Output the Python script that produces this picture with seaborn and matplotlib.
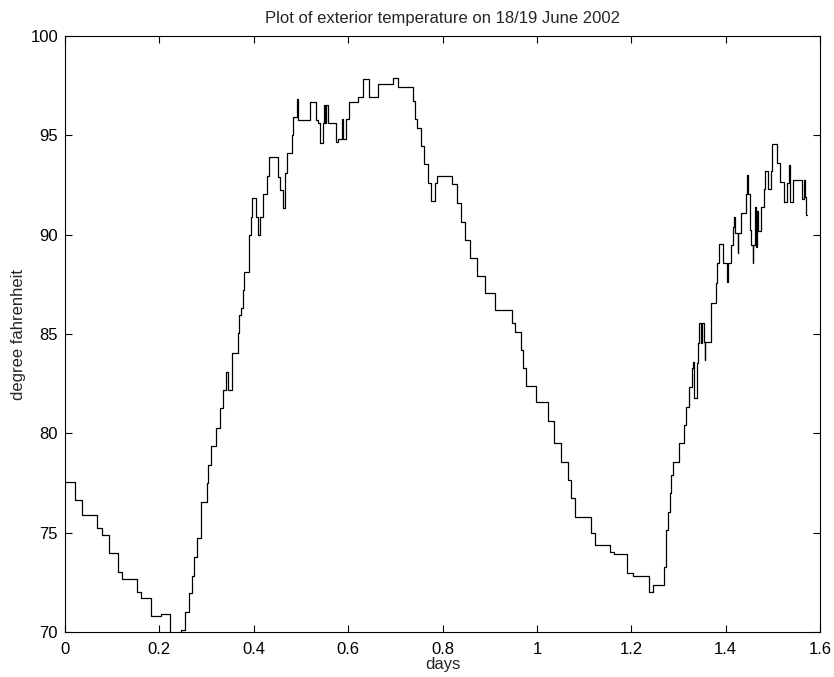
import matplotlib
matplotlib.use("Agg")
import matplotlib.pyplot as plt
import seaborn as sns
import pandas as pd

# Step-change points of the temperature record (days, degree Fahrenheit)
days = [
    0.000, 0.021, 0.037, 0.068, 0.078, 0.093, 0.113, 0.120, 0.153, 0.161,
    0.182, 0.203, 0.2225, 0.245, 0.255, 0.263, 0.269, 0.273, 0.279, 0.289,
    0.300, 0.303, 0.309, 0.321, 0.328, 0.334, 0.341, 0.346, 0.3546, 0.366,
    0.369, 0.374, 0.3766, 0.379, 0.389, 0.3906, 0.3935, 0.396, 0.4047, 0.409,
    0.413, 0.420, 0.4274, 0.4316, 0.452, 0.4556, 0.461, 0.466, 0.471, 0.4804,
    0.4838, 0.491, 0.493, 0.519, 0.531, 0.537, 0.540, 0.546, 0.5495, 0.5516,
    0.553, 0.5566, 0.5743, 0.5792, 0.5862, 0.590, 0.5955, 0.6025, 0.6215, 0.6308,
    0.6442, 0.664, 0.6957, 0.705, 0.737, 0.742, 0.747, 0.754, 0.761, 0.770,
    0.775, 0.784, 0.789, 0.821, 0.830, 0.8385, 0.8477, 0.858, 0.8724, 0.890,
    0.911, 0.9466, 0.9536, 0.9657, 0.9713, 0.977, 0.9974, 1.0242, 1.0362, 1.051,
    1.0666, 1.0716, 1.0808, 1.114, 1.123, 1.156, 1.164, 1.190, 1.204, 1.238,
    1.2466, 1.2693, 1.2729, 1.2736, 1.2786, 1.282, 1.285, 1.289, 1.302, 1.3125,
    1.316, 1.323, 1.328, 1.331, 1.3336, 1.340, 1.342, 1.344, 1.3478, 1.3506,
    1.354, 1.356, 1.357, 1.368, 1.370, 1.3796, 1.382, 1.386, 1.395, 1.4034,
    1.405, 1.4107, 1.4146, 1.4177, 1.420, 1.4254, 1.427, 1.4326, 1.443, 1.4455,
    1.447, 1.4516, 1.453, 1.457, 1.459, 1.462, 1.464, 1.467, 1.469, 1.4742,
    1.4812, 1.4834, 1.489, 1.4954, 1.4976, 1.508, 1.515, 1.5236, 1.531, 1.535,
    1.537, 1.542, 1.543, 1.5625, 1.567, 1.568, 1.570, 1.5717,
]
temperature = [
    77.56, 76.64, 75.89, 75.22, 74.90, 73.96, 73.04, 72.67, 72.00, 71.70,
    70.81, 70.91, 69.80, 70.10, 71.02, 71.95, 72.83, 73.79, 74.71, 76.56,
    77.48, 78.40, 79.38, 80.28, 81.26, 82.18, 83.10, 82.18, 84.06, 85.03,
    85.95, 86.29, 87.21, 88.13, 89.06, 89.98, 90.90, 91.83, 90.90, 89.98,
    90.90, 92.03, 92.95, 93.89, 92.92, 92.25, 91.32, 93.08, 94.09, 95.01,
    95.93, 96.85, 95.77, 96.69, 95.77, 95.60, 94.63, 95.60, 96.52, 95.60,
    96.52, 95.60, 94.68, 94.81, 95.80, 94.81, 95.80, 96.69, 96.91, 97.82,
    96.91, 97.56, 97.90, 97.44, 96.74, 95.82, 95.35, 94.46, 93.54, 92.61,
    91.71, 92.61, 92.95, 92.53, 91.57, 90.65, 89.73, 88.81, 87.92, 87.05,
    86.20, 85.57, 85.11, 84.19, 83.30, 82.38, 81.56, 80.64, 79.50, 78.57,
    77.65, 76.73, 75.80, 75.00, 74.38, 74.04, 73.91, 72.95, 72.83, 72.03,
    72.37, 73.29, 74.20, 75.13, 76.06, 76.98, 77.90, 78.57, 79.50, 80.42,
    81.34, 82.35, 83.27, 83.60, 81.76, 83.52, 84.56, 85.53, 84.56, 85.53,
    84.60, 83.69, 84.60, 85.62, 86.57, 87.55, 88.55, 89.53, 88.55, 87.63,
    88.55, 89.48, 90.40, 90.90, 90.07, 89.06, 90.07, 91.07, 92.03, 93.00,
    92.03, 90.23, 89.48, 88.55, 89.48, 91.41, 89.40, 91.20, 90.20, 91.37,
    92.28, 93.20, 92.28, 93.20, 94.54, 93.62, 92.67, 91.66, 92.58, 93.50,
    91.66, 91.80, 92.75, 91.80, 92.75, 91.90, 90.99, 90.99,
]

x_ticks = [0, 0.2, 0.4, 0.6, 0.8, 1.0, 1.2, 1.4, 1.6]
x_tick_labels = ["0", "0.2", "0.4", "0.6", "0.8", "1", "1.2", "1.4", "1.6"]
y_ticks = [70, 75, 80, 85, 90, 95, 100]

sns.set_theme(style="ticks")
plt.rcParams["font.family"] = ["Liberation Sans", "DejaVu Sans"]

df = pd.DataFrame({"days": days, "temp": temperature})

fig = plt.figure(figsize=(8.34, 6.77), dpi=100)
ax = fig.add_axes([65 / 834, 45 / 677, 755 / 834, 596 / 677])

sns.lineplot(data=df, x="days", y="temp", ax=ax, color="black",
             linewidth=0.9, estimator=None, sort=False,
             drawstyle="steps-post")

ax.set_xlim(0, 1.6)
ax.set_ylim(70, 100)
ax.set_xticks(x_ticks)
ax.set_xticklabels(x_tick_labels)
ax.set_yticks(y_ticks)
ax.tick_params(direction="in", length=5, width=0.8, top=True, right=True,
               labelsize=12, colors="black", pad=5)
ax.tick_params(axis="x", pad=7)
for s in ax.spines.values():
    s.set_visible(True)
    s.set_linewidth(0.8)
    s.set_color("black")

ax.set_title("Plot of exterior temperature on 18/19 June 2002", fontsize=12, pad=9)
ax.set_xlabel("days", fontsize=12, labelpad=0)
ax.set_ylabel("degree fahrenheit", fontsize=12, labelpad=3)

fig.savefig("out.png", dpi=100, facecolor="white")
